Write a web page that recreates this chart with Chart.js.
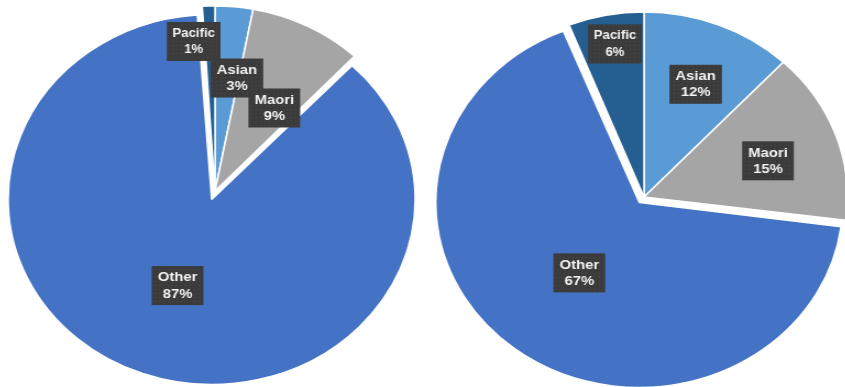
<!DOCTYPE html>
<html>
<head>
<meta charset="utf-8">
<script src="https://cdn.jsdelivr.net/npm/chart.js@4.4.0/dist/chart.umd.min.js"></script>
<style>
  html, body { margin: 0; padding: 0; background: #fff; }
  #stage { position: relative; width: 845px; height: 387px; overflow: hidden; }
  #stage canvas { position: absolute; top: 0; transform: scaleX(1.1); }
  #leftPie { left: 15px; transform-origin: 200px 0; }
  #rightPie { left: 434px; transform-origin: 210px 0; }
</style>
</head>
<body>
<div id="stage">
  <canvas id="leftPie" width="400" height="387"></canvas>
  <canvas id="rightPie" width="420" height="387"></canvas>
</div>
<script>
const categories = ['Asian', 'Maori', 'Other', 'Pacific'];
const leftShares = [3, 9, 87, 1];
const rightShares = [12, 15, 67, 6];

const sliceColors = ['#5B9BD5', '#A5A5A5', '#4472C4', '#255E91'];

// small dotted tile used to fill the label boxes
const tile = document.createElement('canvas');
tile.width = 4;
tile.height = 4;
const tg = tile.getContext('2d');
tg.fillStyle = '#3b3b3b';
tg.fillRect(0, 0, 4, 4);
tg.fillStyle = '#4a4a4a';
tg.fillRect(1, 1, 1, 1);

const boxLabels = {
  id: 'boxLabels',
  afterDatasetUpdate(chart, args) {
    // pulled-out slice keeps the same radius as the rest
    args.meta.data.forEach(arc => {
      arc.outerRadius -= (arc.options.offset || 0) / 4;
    });
  },
  afterDatasetsDraw(chart, args, opts) {
    const ctx = chart.ctx;
    const meta = chart.getDatasetMeta(0);
    const values = chart.data.datasets[0].data;
    const total = values.reduce((a, b) => a + b, 0);
    const pattern = ctx.createPattern(tile, 'repeat');
    meta.data.forEach((arc, i) => {
      const place = opts.place[i];
      const mid = (arc.startAngle + arc.endAngle) / 2;
      const shift = (arc.options.offset || 0) / 4;
      const ang = mid + place.turn * Math.PI / 180;
      const r = arc.outerRadius * place.r;
      const x = arc.x + Math.cos(mid) * shift + Math.cos(ang) * r;
      const y = arc.y + Math.sin(mid) * shift + Math.sin(ang) * r;
      const name = chart.data.labels[i];
      const pct = Math.round(values[i] / total * 100) + '%';
      ctx.save();
      ctx.font = 'bold ' + (place.small ? 12 : 13.5) + 'px "Liberation Sans", Arial, sans-serif';
      const w = Math.max(ctx.measureText(name).width, ctx.measureText(pct).width) + (place.small ? 10 : 11);
      const h = 39;
      ctx.fillStyle = pattern;
      ctx.fillRect(x - w / 2, y - h / 2, w, h);
      ctx.fillStyle = '#f2f2f2';
      ctx.textAlign = 'center';
      ctx.textBaseline = 'middle';
      ctx.fillText(name, x, y - 8);
      ctx.fillText(pct, x, y + 8.5);
      ctx.restore();
    });
  }
};

function makePie(id, shares, pull, radius, padding, place) {
  return new Chart(document.getElementById(id), {
    type: 'pie',
    data: {
      labels: categories,
      datasets: [{
        data: shares,
        backgroundColor: sliceColors,
        borderColor: '#fff',
        borderWidth: 1.5,
        offset: pull
      }]
    },
    options: {
      responsive: false,
      animation: false,
      events: [],
      radius: radius,
      layout: { padding: padding },
      plugins: {
        legend: { display: false },
        tooltip: { enabled: false },
        boxLabels: { place: place }
      }
    },
    plugins: [boxLabels]
  });
}

makePie('leftPie', leftShares, [0, 0, 36, 0], 185, { bottom: 5 }, [
  { r: 0.62, turn: 4.6 },
  { r: 0.535, turn: 6 },
  { r: 0.52, turn: 0 },
  { r: 0.815, turn: -5.6, small: true }
]);

makePie('rightPie', rightShares, [0, 0, 28, 0], 185, { top: 7 }, [
  { r: 0.66, turn: 1 },
  { r: 0.64, turn: 2 },
  { r: 0.50, turn: 0 },
  { r: 0.84, turn: 1, small: true }
]);
</script>
</body>
</html>
